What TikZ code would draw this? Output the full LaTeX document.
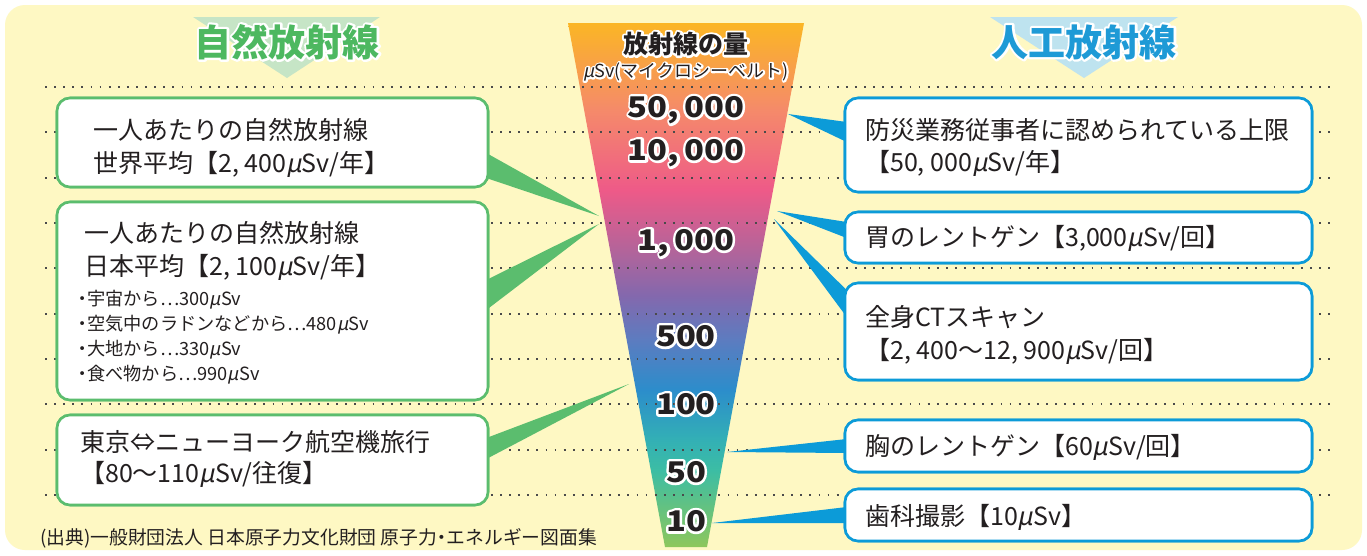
\documentclass[tikz,border=0pt]{standalone}
\usepackage{fontspec}
\setmainfont{Noto Sans CJK JP}
\newfontfamily\muf[FakeSlant=0.2]{Noto Sans CJK JP}
\newfontfamily\numf[FakeStretch=1.15]{Noto Sans CJK JP}
\usetikzlibrary{calc}
\newcommand\uS{{\muf μ}Sv}
\newcommand\myell{{\addfontfeature{CharacterWidth=Full}…}}
\newcommand\nak{{\addfontfeature{CharacterWidth=AlternateHalf}・}}
% white outline: stroked copy under a plain copy
\newcommand\outl[2][4.5]{\makebox[0pt][l]{\special{pdf:literal direct 1 1 1 RG #1 w 1 j 1 J 2 Tr}#2\special{pdf:literal direct 0 Tr}}#2}
\definecolor{bgy}{HTML}{FEF8C3}
\definecolor{grn}{HTML}{5BBD6E}
\definecolor{grnt}{HTML}{4DB860}
\definecolor{grnpale}{HTML}{C6E5C6}
\definecolor{blu}{HTML}{0C9BD8}
\definecolor{blut}{HTML}{1E9AD6}
\definecolor{blupale}{HTML}{BEE3EF}
\definecolor{txt}{HTML}{231F20}
\definecolor{dotc}{HTML}{4A4A4A}
\definecolor{f0}{HTML}{8DC75C}
\definecolor{f1}{HTML}{3CBDA4}
\definecolor{f2}{HTML}{33B0B5}
\definecolor{f3}{HTML}{2C8DCB}
\definecolor{f4}{HTML}{5C7CC0}
\definecolor{f5}{HTML}{8468AD}
\definecolor{f6}{HTML}{B3649A}
\definecolor{f7}{HTML}{EE5A88}
\definecolor{f8}{HTML}{F58A6A}
\definecolor{f9}{HTML}{FBB625}
\pgfdeclareverticalshading{funnel}{100bp}{color(0bp)=(f0); color(25bp)=(f0); color(32.35bp)=(f1); color(35.2bp)=(f2); color(40bp)=(f3); color(44.75bp)=(f4); color(49.05bp)=(f5); color(53.3bp)=(f6); color(59.06bp)=(f7); color(66.7bp)=(f8); color(75bp)=(f9); color(100bp)=(f9)}
\tikzset{
  gbox/.style={draw=grn, line width=2.6pt, fill=white, rounded corners=13pt, inner sep=0pt, minimum width=431pt},
  bbox/.style={draw=blu, line width=2.6pt, fill=white, rounded corners=13pt, inner sep=0pt, minimum width=467pt},
  btext/.style={anchor=west, inner sep=0pt, text=txt, font=\fontsize{25}{30}\selectfont},
  stext/.style={anchor=west, inner sep=0pt, text=txt, font=\fontsize{18.2}{21}\selectfont},
  ftext/.style={inner sep=0pt, text=txt, font=\numf\bfseries\fontsize{28.5}{32}\selectfont},
  wedgeg/.style={fill=grn},
  wedgeb/.style={fill=blu},
  dotline/.style={draw=dotc, line width=1.8pt, dash pattern=on 1.8pt off 7.3pt},
  title/.style={inner sep=0pt, font=\bfseries\fontsize{37}{40}\selectfont}
}
\begin{document}
\begin{tikzpicture}[x=1pt,y=-1pt]
\useasboundingbox (0,0) rectangle (1367,555);
\fill[white] (0,0) rectangle (1367,555);
\fill[bgy, rounded corners=20pt] (5,5) rectangle (1362,550);
% title triangles
\fill[grnpale] (193,17) -- (380,17) -- (287,78) -- cycle;
\fill[blupale] (990,17) -- (1178,17) -- (1084,78) -- cycle;
\node[title, text=grnt] (tl) at (287,42) {\outl[4.5]{自然放射線}};
\node[title, text=blut] (tr) at (1084,42) {\outl[4.5]{人工放射線}};
% funnel
\shade[shading=funnel] (568,23) -- (804,23) -- (707,547) -- (665,547) -- cycle;
% dotted lines
\foreach \yy in {87,132.3,177.7,223,268.3,313.7,359,404.3,449.7,495}
  \draw[dotline] (45,\yy) -- (1330,\yy);
% boxes (shapes first so anchors exist)
\node[gbox, minimum height=89pt] (A) at (272.5,142.5) {};
\node[gbox, minimum height=198pt] (B) at (272.5,301) {};
\node[gbox, minimum height=90pt] (C) at (272.5,460) {};
\node[bbox, minimum height=94pt] (D) at (1078.5,145) {};
\node[bbox, minimum height=51pt] (E) at (1078.5,237.5) {};
\node[bbox, minimum height=97pt] (F) at (1078.5,331.5) {};
\node[bbox, minimum height=52pt] (G) at (1078.5,446) {};
\node[bbox, minimum height=52pt] (H) at (1078.5,515) {};
% wedge tips
\coordinate (tA) at (599,216);
\coordinate (tB) at (599,224);
\coordinate (tC) at (629,384);
\coordinate (tD) at (788,114);
\coordinate (tE) at (777,211);
\coordinate (tF) at (774,219);
\coordinate (tG) at (727,452);
\coordinate (tH) at (712,523);
% wedges
\fill[wedgeg] ($(A.east)+(-3,10.5)$) -- (tA) -- ($(A.east)+(-3,35.5)$) -- cycle;
\fill[wedgeg] ($(B.east)+(-3,-21)$) -- (tB) -- ($(B.east)+(-3,9)$) -- cycle;
\fill[wedgeg] ($(C.east)+(-3,-22)$) -- (tC) -- ($(C.east)+(-3,-1)$) -- cycle;
\fill[wedgeb] ($(D.west)+(3,-23)$) -- (tD) -- ($(D.west)+(3,-3)$) -- cycle;
\fill[wedgeb] ($(E.west)+(3,-15.5)$) -- (tE) -- ($(E.west)+(3,0.5)$) -- cycle;
\fill[wedgeb] ($(F.west)+(3,-41.5)$) -- (tF) -- ($(F.west)+(3,-14.5)$) -- cycle;
\fill[wedgeb] ($(G.west)+(3,-7)$) -- (tG) -- ($(G.west)+(3,7)$) -- cycle;
\fill[wedgeb] ($(H.west)+(3,-8)$) -- (tH) -- ($(H.west)+(3,8)$) -- cycle;
% redraw boxes on top of wedges
\node[gbox, minimum height=89pt] at (A) {};
\node[gbox, minimum height=198pt] at (B) {};
\node[gbox, minimum height=90pt] at (C) {};
\node[bbox, minimum height=94pt] at (D) {};
\node[bbox, minimum height=51pt] at (E) {};
\node[bbox, minimum height=97pt] at (F) {};
\node[bbox, minimum height=52pt] at (G) {};
\node[bbox, minimum height=52pt] at (H) {};
% box texts
\node[btext] (a1) at (93,130) {一人あたりの自然放射線};
\node[btext] (a2) at (93,164) {世界平均【2, 400\uS/年】};
\node[btext] (b1) at (84,233) {一人あたりの自然放射線};
\node[btext] (b2) at (84,267) {日本平均【2, 100\uS/年】};
\node[stext] (b3) at (78,300) {\nak 宇宙から\myell 300\uS};
\node[stext] (b4) at (78,325) {\nak 空気中のラドンなどから\myell 480\uS};
\node[stext] (b5) at (78,350) {\nak 大地から\myell 330\uS};
\node[stext] (b6) at (78,375) {\nak 食べ物から\myell 990\uS};
\node[btext] (c1) at (80,442) {東京⇔ニューヨーク航空機旅行};
\node[btext] (c2) at (80,474) {【80〜110\uS/往復】};
\node[btext] (d1) at (865,130) {防災業務従事者に認められている上限};
\node[btext] (d2) at (865,163) {【50, 000\uS/年】};
\node[btext] (e1) at (865,238) {胃のレントゲン【3,000\uS/回】};
\node[btext] (f1) at (865,317) {全身CTスキャン};
\node[btext] (f2) at (865,351) {【2, 400〜12, 900\uS/回】};
\node[btext] (g1) at (865,447) {胸のレントゲン【60\uS/回】};
\node[btext] (h1) at (865,517) {歯科撮影【10\uS】};
% footnote
\node[stext, font=\fontsize{18.8}{21}\selectfont] (src) at (40,538) {(出典)一般財団法人 日本原子力文化財団 原子力\nak エネルギー図面集};
% funnel texts
\node[inner sep=0pt, text=txt, font=\bfseries\fontsize{25}{28}\selectfont] (fh) at (686,44) {\outl[4.5]{放射線の量}};
\node[inner sep=0pt, text=txt, font=\fontsize{18}{20}\selectfont] (fu) at (686,72) {\outl[3.6]{\uS(マイクロシーベルト)}};
\node[ftext] (n1) at (686,110) {\outl[5]{50,\,000}};
\node[ftext] (n2) at (686,153) {\outl[5]{10,\,000}};
\node[ftext] (n3) at (686,243) {\outl[5]{1,\,000}};
\node[ftext] (n4) at (686,336) {\outl[5]{500}};
\node[ftext] (n5) at (686,404) {\outl[5]{100}};
\node[ftext] (n6) at (686,472) {\outl[5]{50}};
\node[ftext] (n7) at (686,521) {\outl[5]{10}};
\end{tikzpicture}
\end{document}
